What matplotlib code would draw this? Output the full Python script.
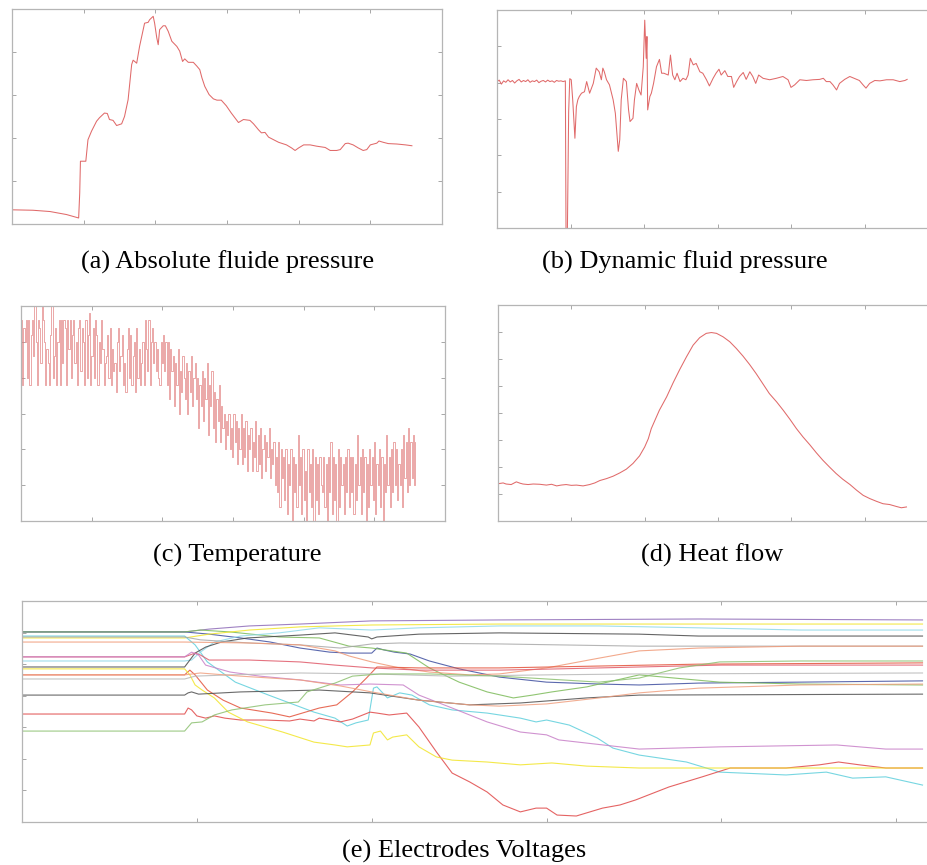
import numpy as np
import matplotlib
matplotlib.use("Agg")
import matplotlib.pyplot as plt

W, H = 927, 865

# (a) absolute fluid pressure
abs_t = [0.00, 0.29, 0.53, 0.76, 0.93, 0.945, 0.955, 1.03, 1.06, 1.11, 1.18, 1.22, 1.29, 1.33, 1.36,
         1.41, 1.46, 1.53, 1.57, 1.62, 1.67, 1.69, 1.74, 1.78, 1.85, 1.90, 1.92, 1.97, 1.99, 2.02,
         2.04, 2.06, 2.11, 2.14, 2.18, 2.23, 2.30, 2.34, 2.38, 2.41, 2.46, 2.53, 2.58, 2.62, 2.65,
         2.69, 2.75, 2.81, 2.86, 2.92, 2.99, 3.06, 3.16, 3.23, 3.32, 3.37, 3.44, 3.48, 3.53, 3.58,
         3.65, 3.72, 3.83, 3.90, 3.95, 4.00, 4.07, 4.16, 4.25, 4.37, 4.44, 4.53, 4.58, 4.65, 4.69,
         4.76, 4.83, 4.90, 4.95, 5.00, 5.09, 5.12, 5.18, 5.25, 5.37, 5.49, 5.58]
abs_p = [0.33, 0.32, 0.29, 0.22, 0.14, 0.72, 1.46, 1.46, 1.96, 2.16, 2.39, 2.47, 2.58, 2.57, 2.43,
         2.41, 2.29, 2.33, 2.50, 2.89, 3.71, 3.81, 3.74, 4.13, 4.67, 4.69, 4.75, 4.83, 4.67, 4.33,
         4.17, 4.52, 4.61, 4.61, 4.48, 4.25, 4.13, 4.02, 3.78, 3.84, 3.76, 3.76, 3.67, 3.59, 3.40,
         3.20, 3.01, 2.91, 2.88, 2.88, 2.75, 2.58, 2.36, 2.43, 2.41, 2.33, 2.19, 2.12, 2.13, 2.02,
         1.96, 1.90, 1.84, 1.77, 1.71, 1.77, 1.84, 1.84, 1.81, 1.78, 1.71, 1.71, 1.73, 1.87, 1.88,
         1.84, 1.77, 1.71, 1.73, 1.84, 1.88, 1.93, 1.90, 1.87, 1.86, 1.84, 1.82]

# (b) dynamic fluid pressure
dyn_t = [0.00, 0.03, 0.06, 0.09, 0.12, 0.15, 0.18, 0.21, 0.24, 0.27, 0.30, 0.33, 0.36, 0.39, 0.42,
         0.45, 0.48, 0.51, 0.54, 0.57, 0.60, 0.63, 0.66, 0.69, 0.72, 0.75, 0.78, 0.81, 0.84, 0.87,
         0.90, 0.93, 0.94, 0.955, 0.975, 0.99, 1.01, 1.03, 1.06, 1.08, 1.10, 1.12, 1.15, 1.19, 1.22,
         1.26, 1.31, 1.35, 1.39, 1.42, 1.44, 1.46, 1.49, 1.53, 1.58, 1.61, 1.65, 1.67, 1.69, 1.72,
         1.76, 1.79, 1.81, 1.85, 1.87, 1.90, 1.93, 1.96, 1.99, 2.01, 2.03, 2.04, 2.05, 2.08, 2.10,
         2.13, 2.17, 2.21, 2.24, 2.27, 2.33, 2.36, 2.39, 2.42, 2.45, 2.49, 2.53, 2.57, 2.60, 2.63,
         2.67, 2.71, 2.76, 2.80, 2.85, 2.89, 2.94, 2.98, 3.02, 3.05, 3.10, 3.14, 3.19, 3.22, 3.26,
         3.30, 3.35, 3.39, 3.44, 3.48, 3.52, 3.56, 3.62, 3.71, 3.80, 3.89, 3.96, 4.00, 4.05, 4.12,
         4.21, 4.30, 4.39, 4.44, 4.48, 4.53, 4.57, 4.62, 4.66, 4.73, 4.80, 4.87, 4.93, 4.98, 5.02,
         5.07, 5.14, 5.21, 5.30, 5.39, 5.48, 5.55, 5.58]
dyn_p = [4.03, 4.07, 3.96, 4.05, 4.01, 4.08, 4.02, 4.06, 3.99, 4.05, 4.09, 4.02, 4.06, 4.03, 4.08,
         4.01, 4.05, 4.03, 4.07, 4.00, 4.04, 4.06, 4.02, 4.07, 4.03, 4.05, 4.01, 4.06, 4.04, 4.05,
         4.03, 4.05, -0.6, -0.6, 3.20, 4.11, 4.08, 3.53, 2.47, 3.34, 3.53, 3.62, 3.71, 3.75, 4.03,
         3.71, 3.98, 4.40, 4.30, 4.08, 4.40, 4.30, 4.08, 3.94, 3.53, 3.16, 2.11, 2.43, 3.53, 4.12,
         4.03, 3.25, 2.93, 3.02, 3.53, 3.98, 3.80, 3.66, 4.44, 5.72, 4.67, 5.27, 3.25, 3.62, 3.71,
         3.98, 4.44, 4.64, 4.26, 4.26, 4.21, 4.76, 4.21, 4.08, 4.26, 4.03, 4.12, 4.08, 4.21, 4.67,
         4.49, 4.53, 4.30, 4.26, 4.08, 3.91, 4.12, 4.26, 4.37, 4.21, 4.33, 4.17, 4.17, 3.87, 4.03,
         4.17, 4.28, 4.09, 4.30, 4.17, 3.98, 4.21, 4.12, 4.08, 4.12, 4.17, 4.08, 3.87, 3.94, 4.08,
         4.06, 4.08, 4.09, 4.12, 4.03, 4.03, 3.94, 3.80, 3.98, 4.09, 4.17, 4.11, 4.06, 3.94, 3.85,
         3.98, 4.06, 4.05, 4.08, 4.08, 4.03, 4.06, 4.09]

# (c) temperature, sensor levels (0.2 per level)
temp_end = 5.58
temp_levels = [
    28, 19, 27, 25, 28, 20, 28, 19, 26, 28, 23, 30, 25, 19, 28, 27, 22, 30, 28, 25, 19, 24, 22, 19, 26, 30, 20, 23, 27, 19,
    25, 28, 19, 28, 22, 28, 27, 19, 28, 24, 28, 20, 26, 28, 22, 25, 19, 27, 28, 21, 27, 25, 19, 28, 20, 26, 29, 19, 23, 27,
    20, 28, 26, 19, 25, 22, 28, 24, 19, 22, 23, 26, 20, 27, 19, 24, 21, 22, 18, 25, 27, 21, 23, 26, 19, 22, 18, 24, 27, 20,
    26, 19, 23, 25, 18, 27, 20, 24, 19, 22, 25, 19, 28, 24, 21, 28, 19, 25, 27, 22, 25, 21, 24, 20, 19, 25, 22, 26, 21, 25,
    19, 25, 17, 24, 21, 23, 16, 22, 19, 24, 15, 21, 18, 23, 20, 17, 22, 15, 21, 18, 23, 16, 20, 22, 17, 20, 13, 19, 16, 21,
    14, 20, 17, 22, 12, 19, 16, 21, 13, 18, 11, 17, 14, 19, 11, 16, 13, 15, 10, 14, 12, 15, 10, 13, 9, 15, 11, 14, 8, 13,
    10, 15, 8, 13, 9, 14, 7, 12, 10, 13, 7, 11, 9, 14, 7, 12, 8, 13, 6, 10, 12, 7, 11, 9, 13, 6, 10, 8, 11, 5,
    9, 4, 11, 2, 10, 6, 9, 3, 10, 1, 8, 5, 10, 0, 9, 4, 8, 2, 12, 5, 9, 1, 10, 3, 7, 0, 10, 4, 8, 2,
    10, 0, 9, 3, 8, 1, 9, 5, 4, 9, 2, 8, 0, 9, 4, 11, 1, 9, 3, 8, 0, 10, 2, 9, 5, 8, 1, 9, 4, 10,
    2, 9, 4, 9, 1, 8, 3, 12, 5, 9, 1, 10, 4, 9, 0, 8, 2, 10, 5, 9, 3, 11, 1, 8, 5, 10, 2, 9, 0, 8,
    4, 12, 5, 9, 2, 10, 4, 11, 5, 10, 3, 8, 5, 10, 2, 12, 6, 11, 4, 13, 5, 11, 6, 12, 5, 11]
temp_step = 0.2

# (d) heat flow
heat_t = [0.00, 0.07, 0.11, 0.18, 0.25, 0.30, 0.34, 0.41, 0.48, 0.57, 0.66, 0.73, 0.80, 0.86, 0.93,
          1.00, 1.07, 1.16, 1.25, 1.32, 1.39, 1.48, 1.57, 1.66, 1.75, 1.84, 1.93, 2.00, 2.05, 2.09,
          2.14, 2.20, 2.30, 2.39, 2.48, 2.57, 2.66, 2.75, 2.84, 2.91, 2.98, 3.07, 3.16, 3.25, 3.34,
          3.43, 3.52, 3.61, 3.70, 3.80, 3.89, 3.98, 4.07, 4.16, 4.25, 4.34, 4.43, 4.52, 4.61, 4.70,
          4.80, 4.89, 4.98, 5.07, 5.16, 5.25, 5.34, 5.43, 5.50, 5.57]
heat_q = [1.38, 1.41, 1.37, 1.35, 1.45, 1.40, 1.37, 1.35, 1.37, 1.36, 1.33, 1.36, 1.30, 1.33, 1.35,
          1.32, 1.33, 1.30, 1.35, 1.41, 1.50, 1.57, 1.66, 1.78, 1.92, 2.13, 2.41, 2.74, 3.05, 3.42,
          3.73, 4.10, 4.60, 5.13, 5.62, 6.08, 6.51, 6.79, 6.95, 6.98, 6.95, 6.82, 6.64, 6.39, 6.11,
          5.80, 5.46, 5.09, 4.72, 4.41, 4.10, 3.77, 3.42, 3.11, 2.83, 2.53, 2.25, 2.00, 1.76, 1.55,
          1.35, 1.14, 0.95, 0.83, 0.73, 0.64, 0.61, 0.54, 0.49, 0.52]

# (e) electrode voltages: (name, colour, times, values)
electrodes = [
    ("e1", "#8e6bb8",
     [0, 0.93, 1.07, 1.30, 1.59, 2.00, 2.73, 3.87, 5.15],
     [6.02, 6.02, 6.11, 6.21, 6.27, 6.37, 6.40, 6.43, 6.40]),
    ("e2", "#3f4fa0",
     [0, 0.93, 1.07, 1.25, 1.42, 1.59, 1.76, 1.87, 2.00, 2.03, 2.07, 2.13, 2.22, 2.33, 2.50, 2.73, 3.00,
      3.30, 3.53, 3.87, 4.45, 5.15],
     [6.02, 6.02, 5.95, 5.83, 5.70, 5.51, 5.38, 5.35, 5.35, 5.51, 5.45, 5.38, 5.32, 5.10, 4.85, 4.59, 4.43,
      4.37, 4.34, 4.40, 4.43, 4.47]),
    ("e3", "#7dbb5a",
     [0, 0.93, 1.02, 1.19, 1.47, 1.70, 1.87, 2.00, 2.20, 2.33, 2.50, 2.66, 2.81, 2.92, 3.03, 3.23, 3.53,
      3.99, 4.45, 5.15],
     [6.02, 6.02, 6.08, 6.02, 5.86, 5.83, 5.57, 5.51, 5.35, 4.88, 4.43, 4.12, 3.93, 4.02, 4.12, 4.28, 4.66,
      4.43, 4.37, 4.34]),
    ("e4", "#f2e52a",
     [0, 0.93, 1.07, 1.30, 1.59, 2.00, 2.73, 3.87, 5.15],
     [5.83, 5.83, 5.95, 6.08, 6.18, 6.24, 6.27, 6.27, 6.27]),
    ("e5", "#5fcfdc",
     [0, 0.93, 0.99, 1.06, 1.22, 1.41, 1.67, 1.79, 1.86, 1.91, 1.98, 2.01, 2.03, 2.09, 2.16, 2.23, 2.33,
      2.46, 2.66, 2.85, 2.94, 3.00, 3.13, 3.29, 3.38, 3.53, 3.80, 3.99, 4.37, 4.60, 4.75, 4.94, 5.15],
     [5.89, 5.89, 5.61, 5.07, 4.43, 4.02, 3.48, 3.29, 3.04, 3.14, 3.23, 4.24, 4.28, 3.93, 4.09, 4.02, 3.71,
      3.55, 3.45, 3.29, 3.17, 3.23, 3.07, 2.66, 2.34, 2.12, 1.90, 1.58, 1.49, 1.58, 1.39, 1.43, 1.17]),
    ("e6", "#8fd8e8",
     [0, 0.93, 0.97, 1.02, 1.10, 1.25, 1.47, 1.70, 2.00, 2.27, 2.73, 3.30, 3.87, 4.45, 5.15],
     [5.10, 5.10, 5.13, 5.38, 5.70, 5.89, 5.99, 6.15, 6.08, 6.15, 6.21, 6.21, 6.15, 6.08, 6.08]),
    ("e7", "#4a4a4a",
     [0, 0.93, 0.96, 0.99, 1.05, 1.14, 1.29, 1.59, 1.79, 1.98, 2.00, 2.03, 2.27, 2.73, 3.53, 3.87, 4.45, 5.15],
     [4.91, 4.91, 5.13, 5.35, 5.54, 5.70, 5.83, 5.92, 5.99, 5.86, 5.80, 5.86, 5.95, 5.99, 5.95, 5.89, 5.89, 5.89]),
    ("e8", "#a8a8a8",
     [0, 0.93, 1.02, 1.30, 1.59, 1.82, 2.00, 2.16, 2.73, 3.53, 4.45, 5.15],
     [5.86, 5.86, 5.77, 5.67, 5.61, 5.51, 5.64, 5.67, 5.64, 5.57, 5.57, 5.57]),
    ("e9", "#f09a78",
     [0, 0.93, 1.30, 1.59, 1.79, 1.87, 2.00, 2.16, 2.33, 2.56, 2.73, 3.00, 3.30, 3.53, 3.87, 4.45, 5.15],
     [5.70, 5.70, 5.67, 5.61, 5.42, 5.26, 5.07, 4.88, 4.75, 4.66, 4.69, 4.88, 5.19, 5.42, 5.51, 5.57, 5.57]),
    ("e10", "#e05a6a",
     [0, 0.93, 0.96, 0.99, 1.02, 1.07, 1.30, 1.59, 1.79, 2.00, 2.27, 2.73, 3.07, 3.53, 4.00, 5.15],
     [5.23, 5.23, 5.29, 5.35, 5.29, 5.13, 5.13, 5.07, 4.97, 4.88, 4.81, 4.81, 4.85, 4.91, 4.97, 4.97]),
    ("e11", "#e04848",
     [0, 0.93, 0.95, 0.97, 1.00, 1.05, 1.10, 1.16, 1.25, 1.39, 1.53, 1.59, 1.67, 1.70, 1.82, 1.89, 1.99,
      2.03, 2.10, 2.20, 2.27, 2.37, 2.46, 2.56, 2.66, 2.75, 2.85, 2.94, 3.00, 3.06, 3.17, 3.32, 3.42,
      3.51, 3.70, 3.89, 4.05, 4.37, 4.56, 4.67, 4.79, 4.94, 5.15],
     [3.42, 3.42, 3.61, 3.55, 3.36, 3.29, 3.36, 3.29, 3.23, 3.23, 3.20, 3.26, 3.20, 3.29, 3.17, 3.26, 3.48,
      3.45, 3.39, 3.45, 3.01, 2.22, 1.55, 1.27, 0.95, 0.54, 0.32, 0.44, 0.44, 0.22, 0.19, 0.44, 0.54,
      0.70, 1.11, 1.43, 1.71, 1.71, 1.81, 1.90, 1.81, 1.71, 1.71]),
    ("e12", "#e3523a",
     [0, 0.93, 0.96, 0.99, 1.06, 1.15, 1.25, 1.43, 1.53, 1.70, 1.80, 1.89, 1.97, 2.03, 2.05, 2.27, 2.73,
      3.30, 3.87, 5.15],
     [4.66, 4.66, 4.81, 4.66, 4.18, 3.86, 3.61, 3.45, 3.33, 3.61, 3.71, 4.12, 4.56, 4.91, 4.91, 4.88, 4.88,
      4.94, 5.00, 5.04]),
    ("e13", "#f2e52a",
     [0, 0.93, 0.96, 0.99, 1.03, 1.10, 1.18, 1.29, 1.49, 1.67, 1.79, 1.86, 1.99, 2.01, 2.05, 2.09, 2.12,
      2.20, 2.27, 2.37, 2.46, 2.66, 2.85, 3.03, 3.23, 3.53, 5.15],
     [4.85, 4.85, 4.66, 4.34, 4.18, 3.93, 3.48, 3.17, 2.85, 2.53, 2.44, 2.38, 2.44, 2.82, 2.88, 2.60, 2.69,
      2.76, 2.38, 2.06, 1.96, 1.90, 1.81, 1.87, 1.77, 1.71, 1.71]),
    ("e14", "#c880c8",
     [0, 0.93, 0.97, 1.01, 1.05, 1.19, 1.36, 1.59, 1.82, 1.99, 2.18, 2.27, 2.46, 2.66, 2.85, 3.00, 3.07,
      3.53, 3.99, 4.66, 4.94, 5.15],
     [5.23, 5.23, 5.38, 5.29, 4.97, 4.75, 4.62, 4.50, 4.34, 4.37, 4.34, 4.02, 3.61, 3.17, 2.85, 2.76, 2.60,
      2.31, 2.38, 2.44, 2.31, 2.31]),
    ("e15", "#b8b8b8",
     [0, 0.93, 0.99, 1.19, 1.59, 2.00, 2.45, 3.00, 3.53, 5.15],
     [4.53, 4.53, 4.62, 4.66, 4.72, 4.69, 4.62, 4.66, 4.69, 4.72]),
    ("e16", "#505050",
     [0, 0.93, 0.95, 0.97, 1.01, 1.25, 1.70, 1.99, 2.27, 2.56, 2.85, 3.23, 3.53, 5.15],
     [4.02, 4.02, 4.09, 4.12, 4.05, 4.12, 4.18, 4.09, 3.86, 3.71, 3.77, 3.93, 4.02, 4.05]),
    ("e17", "#8cc070",
     [0, 0.93, 0.97, 1.03, 1.10, 1.20, 1.39, 1.58, 1.63, 1.79, 1.89, 2.05, 2.33, 2.73, 3.00, 3.30, 3.53,
      3.76, 3.99, 4.45, 5.15],
     [2.88, 2.88, 3.14, 3.17, 3.39, 3.55, 3.71, 3.80, 4.12, 4.40, 4.62, 4.69, 4.69, 4.62, 4.53, 4.43, 4.56,
      4.88, 5.07, 5.10, 5.10]),
    ("e18", "#f0a080",
     [0, 0.93, 1.02, 1.25, 1.59, 1.82, 2.00, 2.27, 2.56, 2.73, 3.00, 3.30, 3.53, 3.87, 4.45, 5.15],
     [4.66, 4.66, 4.72, 4.62, 4.50, 4.31, 4.12, 3.86, 3.71, 3.67, 3.74, 3.93, 4.09, 4.24, 4.34, 4.37]),
]

captions = ["(a) Absolute fluide pressure", "(b) Dynamic fluid pressure",
            "(c) Temperature", "(d) Heat flow", "(e) Electrodes Voltages"]

RED = "#e06a6a"
SPINE = "#b5b5b5"


def px_axes(fig, l, t, r, b):
    return fig.add_axes([l / W, 1 - b / H, (r - l) / W, (b - t) / H])


def style(ax, xmax, ymax):
    ax.set_xlim(0, xmax)
    ax.set_ylim(0, ymax)
    ax.set_xticks(np.arange(0, int(xmax) + 1))
    ax.set_yticks(np.arange(0, int(ymax) + 1))
    ax.tick_params(direction="in", length=3, width=0.6, color="#999999",
                   top=True, right=True, labelbottom=False, labelleft=False)
    for s in ax.spines.values():
        s.set_color(SPINE)
        s.set_linewidth(0.9)


fig = plt.figure(figsize=(W / 100, H / 100), dpi=100)

ax_a = px_axes(fig, 12, 9, 442, 224)
style(ax_a, 6, 5)
ax_a.plot(abs_t, abs_p, color=RED, lw=0.75)

ax_b = px_axes(fig, 497, 10, 938, 228)
style(ax_b, 6, 6)
ax_b.plot(dyn_t, dyn_p, color=RED, lw=0.75)

ax_c = px_axes(fig, 21, 306, 445, 521)
style(ax_c, 6, 6)
temp_t = np.linspace(0, temp_end, len(temp_levels))
ax_c.plot(temp_t, np.array(temp_levels) * temp_step, color="#e07878", lw=0.6,
          drawstyle="steps-post", alpha=0.75)

ax_d = px_axes(fig, 498, 305, 938, 521)
style(ax_d, 6, 8)
ax_d.plot(heat_t, heat_q, color=RED, lw=0.75)

ax_e = px_axes(fig, 22, 601, 940, 822)
style(ax_e, 5.25, 7)
for name, col, t, v in electrodes:
    ax_e.plot(t, v, color=col, lw=0.8, alpha=0.85)

cap_font = dict(family="Liberation Serif", size=19, ha="center", va="center")
fig.text(228 / W, 1 - 262 / H, captions[0], **cap_font)
fig.text(685 / W, 1 - 262 / H, captions[1], **cap_font)
fig.text(237 / W, 1 - 555 / H, captions[2], **cap_font)
fig.text(712 / W, 1 - 555 / H, captions[3], **cap_font)
fig.text(464 / W, 1 - 851 / H, captions[4], **cap_font)

fig.savefig("out.png", dpi=100)
